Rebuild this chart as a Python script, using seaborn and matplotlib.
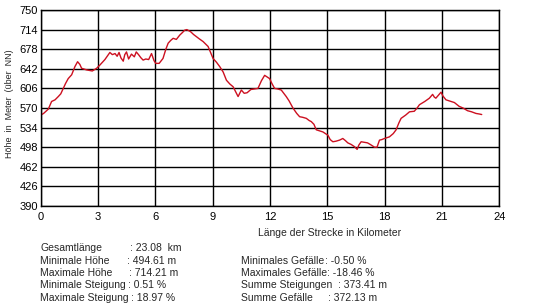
import matplotlib
matplotlib.use("Agg")
import matplotlib.pyplot as plt
import seaborn as sns
import pandas as pd

distance_km = [0.00, 0.15, 0.40, 0.57, 0.75, 0.92, 1.05, 1.18, 1.30, 1.44, 1.62, 1.79, 1.93,
               2.05, 2.14, 2.40, 2.70, 2.93, 3.10, 3.36, 3.50, 3.62, 3.75, 3.89, 4.00, 4.10,
               4.20, 4.32, 4.40, 4.49, 4.60, 4.75, 4.90, 5.00, 5.12, 5.25, 5.36, 5.50, 5.65,
               5.80, 5.93, 6.02, 6.20, 6.40, 6.55, 6.67, 6.80, 6.93, 7.10, 7.28, 7.40, 7.54,
               7.65, 7.85, 8.00, 8.15, 8.30, 8.50, 8.76, 9.02, 9.20, 9.37, 9.55, 9.72, 9.90,
               10.07, 10.20, 10.33, 10.50, 10.65, 10.80, 11.00, 11.20, 11.37, 11.55, 11.72,
               11.85, 11.98, 12.10, 12.24, 12.40, 12.59, 12.85, 13.00, 13.20, 13.40, 13.55,
               13.70, 13.90, 14.05, 14.16, 14.30, 14.42, 14.60, 14.77, 15.03, 15.15, 15.29,
               15.45, 15.64, 15.81, 15.95, 16.07, 16.25, 16.42, 16.56, 16.65, 16.77, 16.95,
               17.10, 17.25, 17.38, 17.47, 17.60, 17.73, 17.85, 17.99, 18.25, 18.45, 18.60,
               18.75, 18.86, 19.10, 19.30, 19.55, 19.70, 19.82, 20.10, 20.34, 20.51, 20.60,
               20.68, 20.80, 20.95, 21.05, 21.21, 21.47, 21.65, 21.90, 22.10, 22.34, 22.55,
               22.78, 22.95, 23.08]
elevation_m = [557, 560, 568, 582, 585, 591, 596, 606, 615, 624, 631, 646, 655,
               650, 643, 640, 638, 643, 649, 659, 666, 672, 668, 670, 665, 672,
               662, 656, 668, 673, 660, 669, 664, 673, 668, 662, 658, 660, 659,
               670, 657, 652, 652, 661, 678, 689, 694, 698, 696, 704, 708, 713,
               714, 710, 705, 701, 697, 692, 683, 661, 654, 646, 636, 621, 614,
               609, 600, 591, 603, 597, 598, 604, 605, 606, 620, 630,
               627, 624, 615, 606, 605, 603, 591, 583, 570, 560, 554,
               553, 551, 547, 545, 540, 530, 528, 526, 520, 512, 508,
               509, 511, 514, 510, 506, 503, 499, 494, 502, 508, 507,
               506, 503, 500, 498, 498, 511, 512, 514, 517, 523, 530,
               543, 551, 557, 563, 564, 570, 576, 582, 588, 595, 590,
               588, 593, 599, 592, 585, 582, 580, 573, 570, 565, 563,
               560, 559, 558]

y_ticks = [390, 426, 462, 498, 534, 570, 606, 642, 678, 714, 750]
x_ticks = [0, 3, 6, 9, 12, 15, 18, 21, 24]

stats_left = [("Gesamtlänge", ": 23.08  km"),
              ("Minimale Höhe", ": 494.61 m"),
              ("Maximale Höhe", ": 714.21 m"),
              ("Minimale Steigung", ": 0.51 %"),
              ("Maximale Steigung", ": 18.97 %")]
stats_right = [("Minimales Gefälle", ": -0.50 %"),
               ("Maximales Gefälle", ": -18.46 %"),
               ("Summe Steigungen", ": 373.41 m"),
               ("Summe Gefälle", ": 372.13 m")]

sns.set_style("white")
plt.rcParams['font.family'] = ['Liberation Sans', 'DejaVu Sans']

W, H = 549, 308
fig = plt.figure(figsize=(W / 100, H / 100), dpi=100)
fig.patch.set_facecolor("white")
ax = fig.add_axes([40.7 / W, 1 - 206 / H, (499.3 - 40.7) / W, (206 - 10) / H])

df = pd.DataFrame({"km": distance_km, "m": elevation_m})
sns.lineplot(data=df, x="km", y="m", ax=ax, color="#cc1020", linewidth=1.0)

ax.set_xlim(0, 24)
ax.set_ylim(390, 750)
ax.set_xticks(x_ticks)
ax.set_yticks(y_ticks)
ax.set_xticklabels([str(t) for t in x_ticks])
ax.set_yticklabels([str(t) for t in y_ticks])
ax.tick_params(axis="both", length=0, labelsize=8, colors="black")
ax.tick_params(axis="x", pad=4)
ax.tick_params(axis="y", pad=2)
ax.grid(True, color="black", linewidth=1.0)
ax.set_axisbelow(True)
for s in ax.spines.values():
    s.set_color("black")
    s.set_linewidth(1.0)
ax.set_xlabel("")
ax.set_ylabel("")

fs = 7.5
fig.text(330 / W, 1 - 233 / H, "Länge der Strecke in Kilometer", ha="center", va="center", fontsize=fs)
fig.text(10 / W, 1 - 104 / H, "Höhe  in  Meter  (über  NN)", ha="center", va="center",
         rotation=90, fontsize=6.5)

left_rows = [248, 260.5, 273, 285.5, 298]
left_colon_x = [130, 127, 129, 127.5, 131]
for (lab, val), y, cx in zip(stats_left, left_rows, left_colon_x):
    fig.text(40 / W, 1 - y / H, lab, ha="left", va="center", fontsize=fs)
    fig.text(cx / W, 1 - y / H, val, ha="left", va="center", fontsize=fs)

right_rows = [260.5, 273, 285.5, 298]
right_colon_x = [325, 327, 338, 328]
for (lab, val), y, cx in zip(stats_right, right_rows, right_colon_x):
    fig.text(241 / W, 1 - y / H, lab, ha="left", va="center", fontsize=fs)
    fig.text(cx / W, 1 - y / H, val, ha="left", va="center", fontsize=fs)

fig.savefig("out.png", dpi=100, facecolor="white")
